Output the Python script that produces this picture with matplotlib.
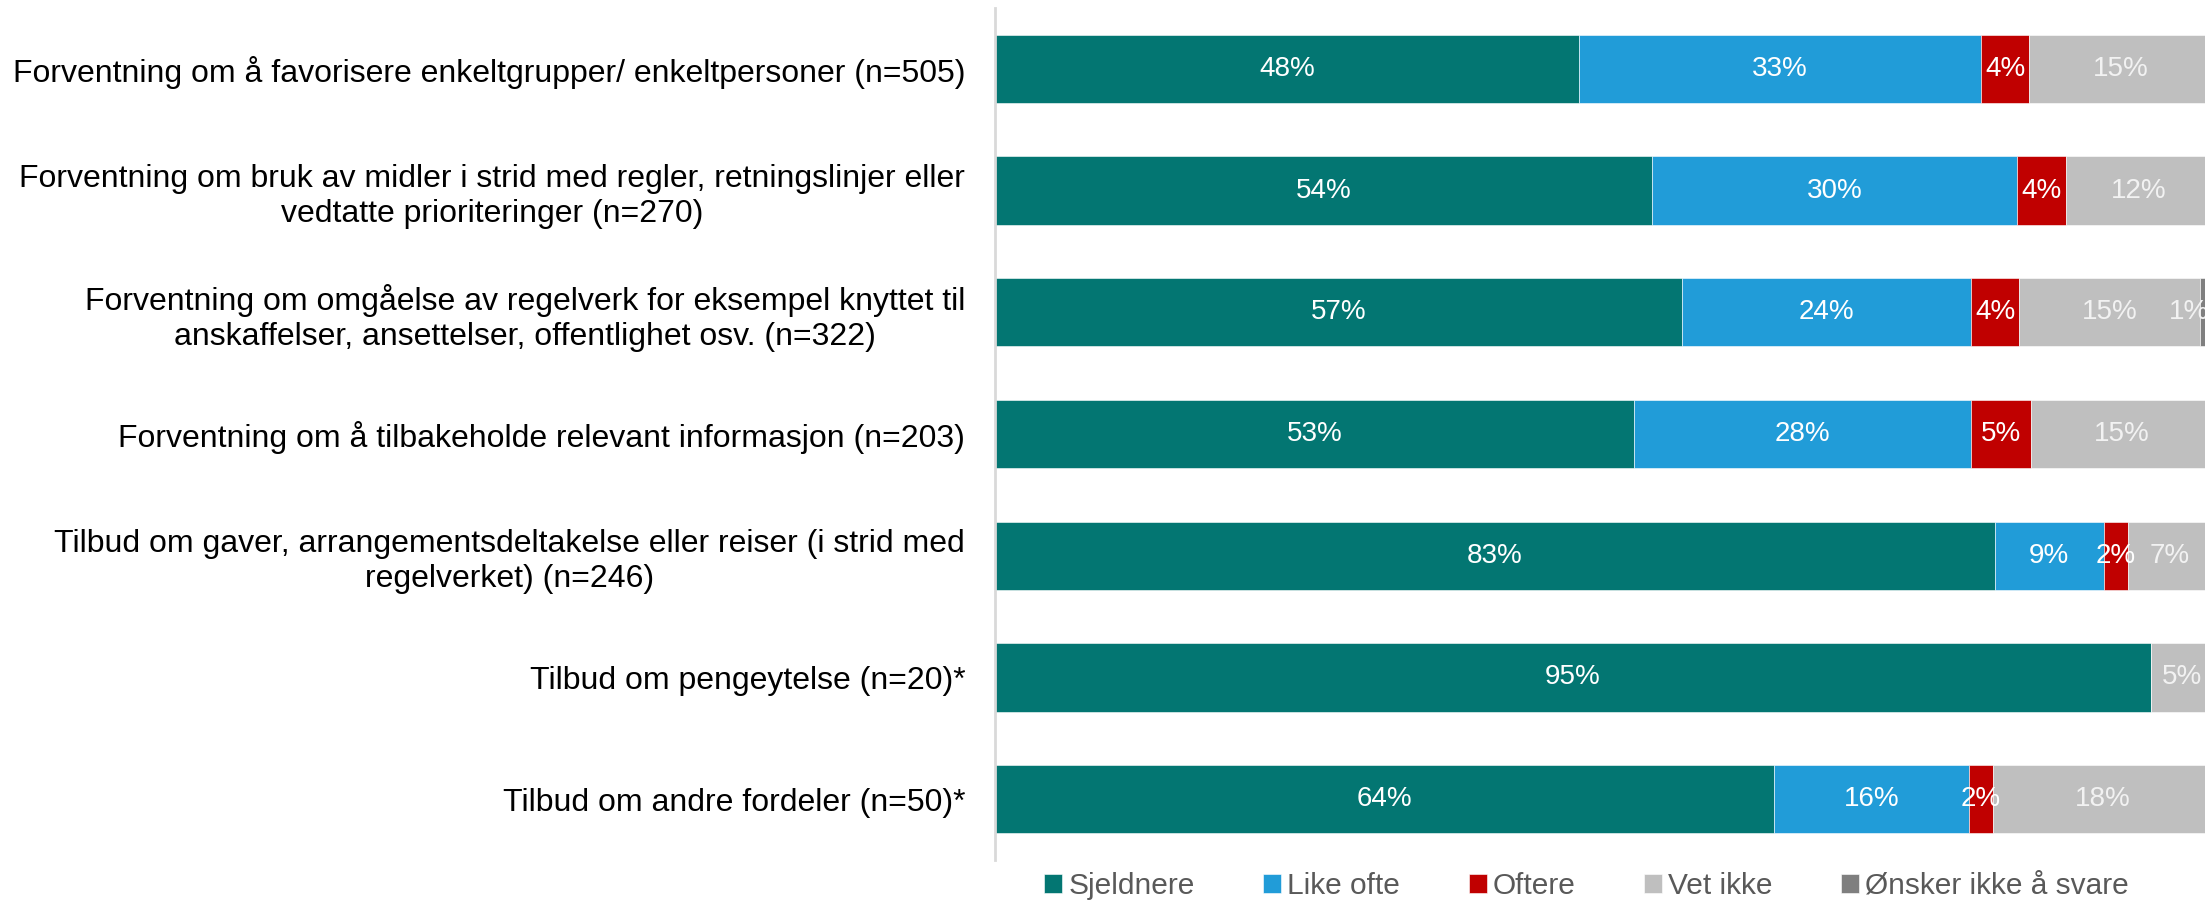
import matplotlib
matplotlib.use("Agg")
import matplotlib.pyplot as plt
import numpy as np

plt.rcParams['font.family'] = ['Liberation Sans', 'DejaVu Sans']

categories = [
    "Forventning om å favorisere enkeltgrupper/ enkeltpersoner (n=505)",
    "Forventning om bruk av midler i strid med regler, retningslinjer eller\nvedtatte prioriteringer (n=270)",
    "Forventning om omgåelse av regelverk for eksempel knyttet til\nanskaffelser, ansettelser, offentlighet osv. (n=322)",
    "Forventning om å tilbakeholde relevant informasjon (n=203)",
    "Tilbud om gaver, arrangementsdeltakelse eller reiser (i strid med\nregelverket) (n=246)",
    "Tilbud om pengeytelse (n=20)*",
    "Tilbud om andre fordeler (n=50)*",
]
series_names = ["Sjeldnere", "Like ofte", "Oftere", "Vet ikke", "Ønsker ikke å svare"]
sjeldnere = [48, 54, 57, 53, 83, 95, 64]
like_ofte = [33, 30, 24, 28, 9, 0, 16]
oftere = [4, 4, 4, 5, 2, 0, 2]
vet_ikke = [15, 12, 15, 15, 7, 5, 18]
onsker_ikke = [0, 0, 1, 0, 0, 0, 0]

colors = ["#037672", "#219CD8", "#C00000", "#BFBFBF", "#7F7F7F"]
label_colors = ["white", "white", "white", "#F2F2F2", "#F2F2F2"]

W, H = 2205, 901
fig = plt.figure(figsize=(W / 100, H / 100), dpi=100)
ax_left = 995 / W
ax_right = 2212 / W
ax_top = 1 - 8 / H
ax_bot = 1 - 860 / H
ax = fig.add_axes([ax_left, ax_bot, ax_right - ax_left, ax_top - ax_bot])

data = np.array([sjeldnere, like_ofte, oftere, vet_ikke, onsker_ikke], dtype=float)
totals = data.sum(axis=0)
shares = data / totals * 100
y = np.arange(len(categories))
left = np.zeros(len(categories))
ax.set_xlim(0, 100)
# data x at the figure's right edge
x_edge = (1.0 - ax_left) / (ax_right - ax_left) * 100
for i, name in enumerate(series_names):
    ax.barh(y, shares[i], left=left, height=0.56, color=colors[i], label=name,
            edgecolor="white", linewidth=0.4)
    for j in range(len(categories)):
        v = data[i, j]
        if v > 0:
            cx = left[j] + shares[i, j] / 2
            if cx > x_edge - 1.5:
                ax.text(x_edge + 0.3, y[j], f"{int(v)}%", ha="right", va="center",
                        color=label_colors[i], fontsize=20, clip_on=False)
            else:
                ax.text(cx, y[j], f"{int(v)}%", ha="center", va="center",
                        color=label_colors[i], fontsize=20, clip_on=False)
    left += shares[i]

ax.set_ylim(len(categories) - 0.5, -0.5)
ax.set_yticks(y)
ax.set_yticklabels(categories, fontsize=23.0, color="#000000", multialignment="center")
ax.tick_params(axis="y", length=0, pad=21.5)
ax.set_xticks([])
for s in ["top", "right", "bottom"]:
    ax.spines[s].set_visible(False)
ax.spines["left"].set_color("#D9D9D9")
ax.spines["left"].set_linewidth(2)

handles, labels = ax.get_legend_handles_labels()
fig.legend(handles, labels, loc="center", bbox_to_anchor=((995 + 2205) / 2 / W - 0.006, 1 - 886 / H),
           ncol=5, frameon=False, fontsize=21.5, handlelength=0.6, handleheight=0.6,
           handletextpad=0.2, columnspacing=2.3, labelcolor="#595959")

fig.savefig("out.png", dpi=100)
